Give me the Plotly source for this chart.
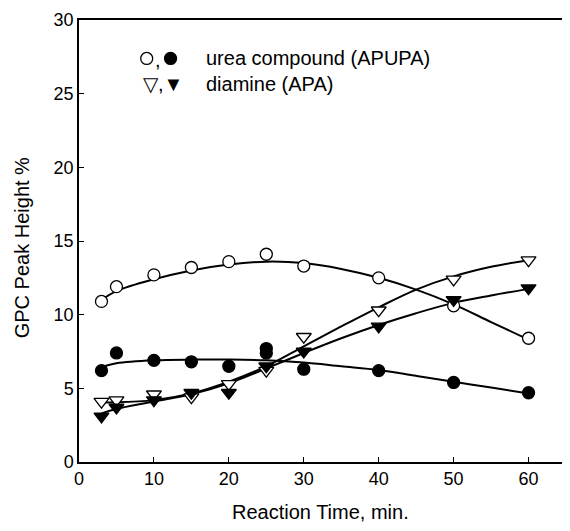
import plotly.graph_objects as go

# Reaction time (min) of the measured points
time_pts = [3, 5, 10, 15, 20, 25, 25, 30, 40, 50, 60]

# Measured GPC peak heights (%)
urea_open = [10.9, 11.9, 12.7, 13.2, 13.6, 14.1, None, 13.3, 12.5, 10.6, 8.4]
urea_filled = [6.2, 7.4, 6.9, 6.8, 6.5, 7.7, 7.4, 6.3, 6.2, 5.4, 4.7]
diamine_open = [4.1, 4.2, 4.6, 4.4, 5.3, 6.2, None, 8.5, 10.3, 12.4, 13.7]
diamine_filled = [3.1, 3.7, 4.2, 4.7, 4.7, 6.5, None, 7.5, 9.2, 11.0, 11.8]

# Smooth fitted curves
curve_time = [3, 5, 10, 15, 20, 25, 30, 35, 40, 45, 50, 55, 60]
urea_open_fit = [11.0, 11.6, 12.4, 13.0, 13.4, 13.6, 13.5, 13.1, 12.5, 11.7, 10.7, 9.5, 8.3]
urea_filled_fit = [6.45, 6.7, 6.9, 6.95, 6.95, 6.9, 6.75, 6.5, 6.25, 5.85, 5.45, 5.05, 4.65]
diamine_open_fit = [4.05, 4.05, 4.2, 4.65, 5.45, 6.5, 7.85, 9.2, 10.5, 11.7, 12.6, 13.25, 13.7]
diamine_filled_fit = [3.3, 3.6, 4.1, 4.6, 5.35, 6.35, 7.4, 8.4, 9.3, 10.1, 10.8, 11.3, 11.75]

x_ticks = [0, 10, 20, 30, 40, 50, 60]
y_ticks = [0, 5, 10, 15, 20, 25, 30]

FONT = "Liberation Sans, Arial, sans-serif"

fig = go.Figure()

for fit in [urea_open_fit, urea_filled_fit, diamine_open_fit, diamine_filled_fit]:
    fig.add_trace(go.Scatter(x=curve_time, y=fit, mode="lines", line_shape="spline",
                             line=dict(color="black", width=2), showlegend=False,
                             hoverinfo="skip"))

def add_pts(vals, symbol, filled):
    fig.add_trace(go.Scatter(
        x=time_pts, y=vals, mode="markers", showlegend=False,
        marker=dict(symbol=symbol, size=13 if "triangle" in symbol else 12,
                    color="black" if filled else "white",
                    line=dict(color="black", width=1.3))))

add_pts(urea_open, "circle", False)
add_pts(urea_filled, "circle", True)
add_pts(diamine_open, "triangle-down", False)
add_pts(diamine_filled, "triangle-down", True)

# legend key symbols for the first row (circles drawn as paper-space shapes)
rx, ry = 0.0123, 0.0136
row1_y, row2_y = 0.913, 0.855
for cx, fill in [(0.139, "white"), (0.188, "black")]:
    fig.add_shape(type="circle", xref="paper", yref="paper",
                  x0=cx - rx, x1=cx + rx, y0=row1_y - ry, y1=row1_y + ry,
                  line=dict(color="black", width=1.3), fillcolor=fill)

leg_font = dict(family=FONT, size=20, color="black")
def leg_text(x, y, txt, anchor="left"):
    fig.add_annotation(x=x, y=y, xref="paper", yref="paper", text=txt, showarrow=False,
                       xanchor=anchor, yanchor="middle", font=leg_font)

leg_text(0.162, row1_y - 0.004, ",", "center")
leg_text(0.256, row1_y, "urea compound (APUPA)")
leg_text(0.127, row2_y, "▽,▼")
leg_text(0.256, row2_y, "diamine (APA)")

# axis titles
fig.add_annotation(x=0.495, y=-0.113, xref="paper", yref="paper", text="Reaction Time, min.",
                   showarrow=False, yanchor="middle", font=dict(family=FONT, size=20, color="black"))
fig.add_annotation(x=-0.1166, y=0.484, xref="paper", yref="paper", text="GPC Peak Height %",
                   showarrow=False, textangle=-90, xanchor="center", yanchor="middle",
                   font=dict(family=FONT, size=20, color="black"))

axis_common = dict(showgrid=False, zeroline=False, showline=True, linecolor="black",
                   linewidth=1.5, mirror=True, ticks="inside", ticklen=5, tickwidth=1.2,
                   tickcolor="black", tickfont=dict(family=FONT, size=18, color="black"))

fig.update_xaxes(range=[0, 65], tickvals=x_ticks, **axis_common)
fig.update_yaxes(range=[0, 30], tickvals=y_ticks, **axis_common)

fig.update_layout(width=562, height=523, margin=dict(l=71, r=2, t=12, b=69),
                  plot_bgcolor="white", paper_bgcolor="white",
                  font=dict(family=FONT, color="black"))

fig.write_html("out.html")
